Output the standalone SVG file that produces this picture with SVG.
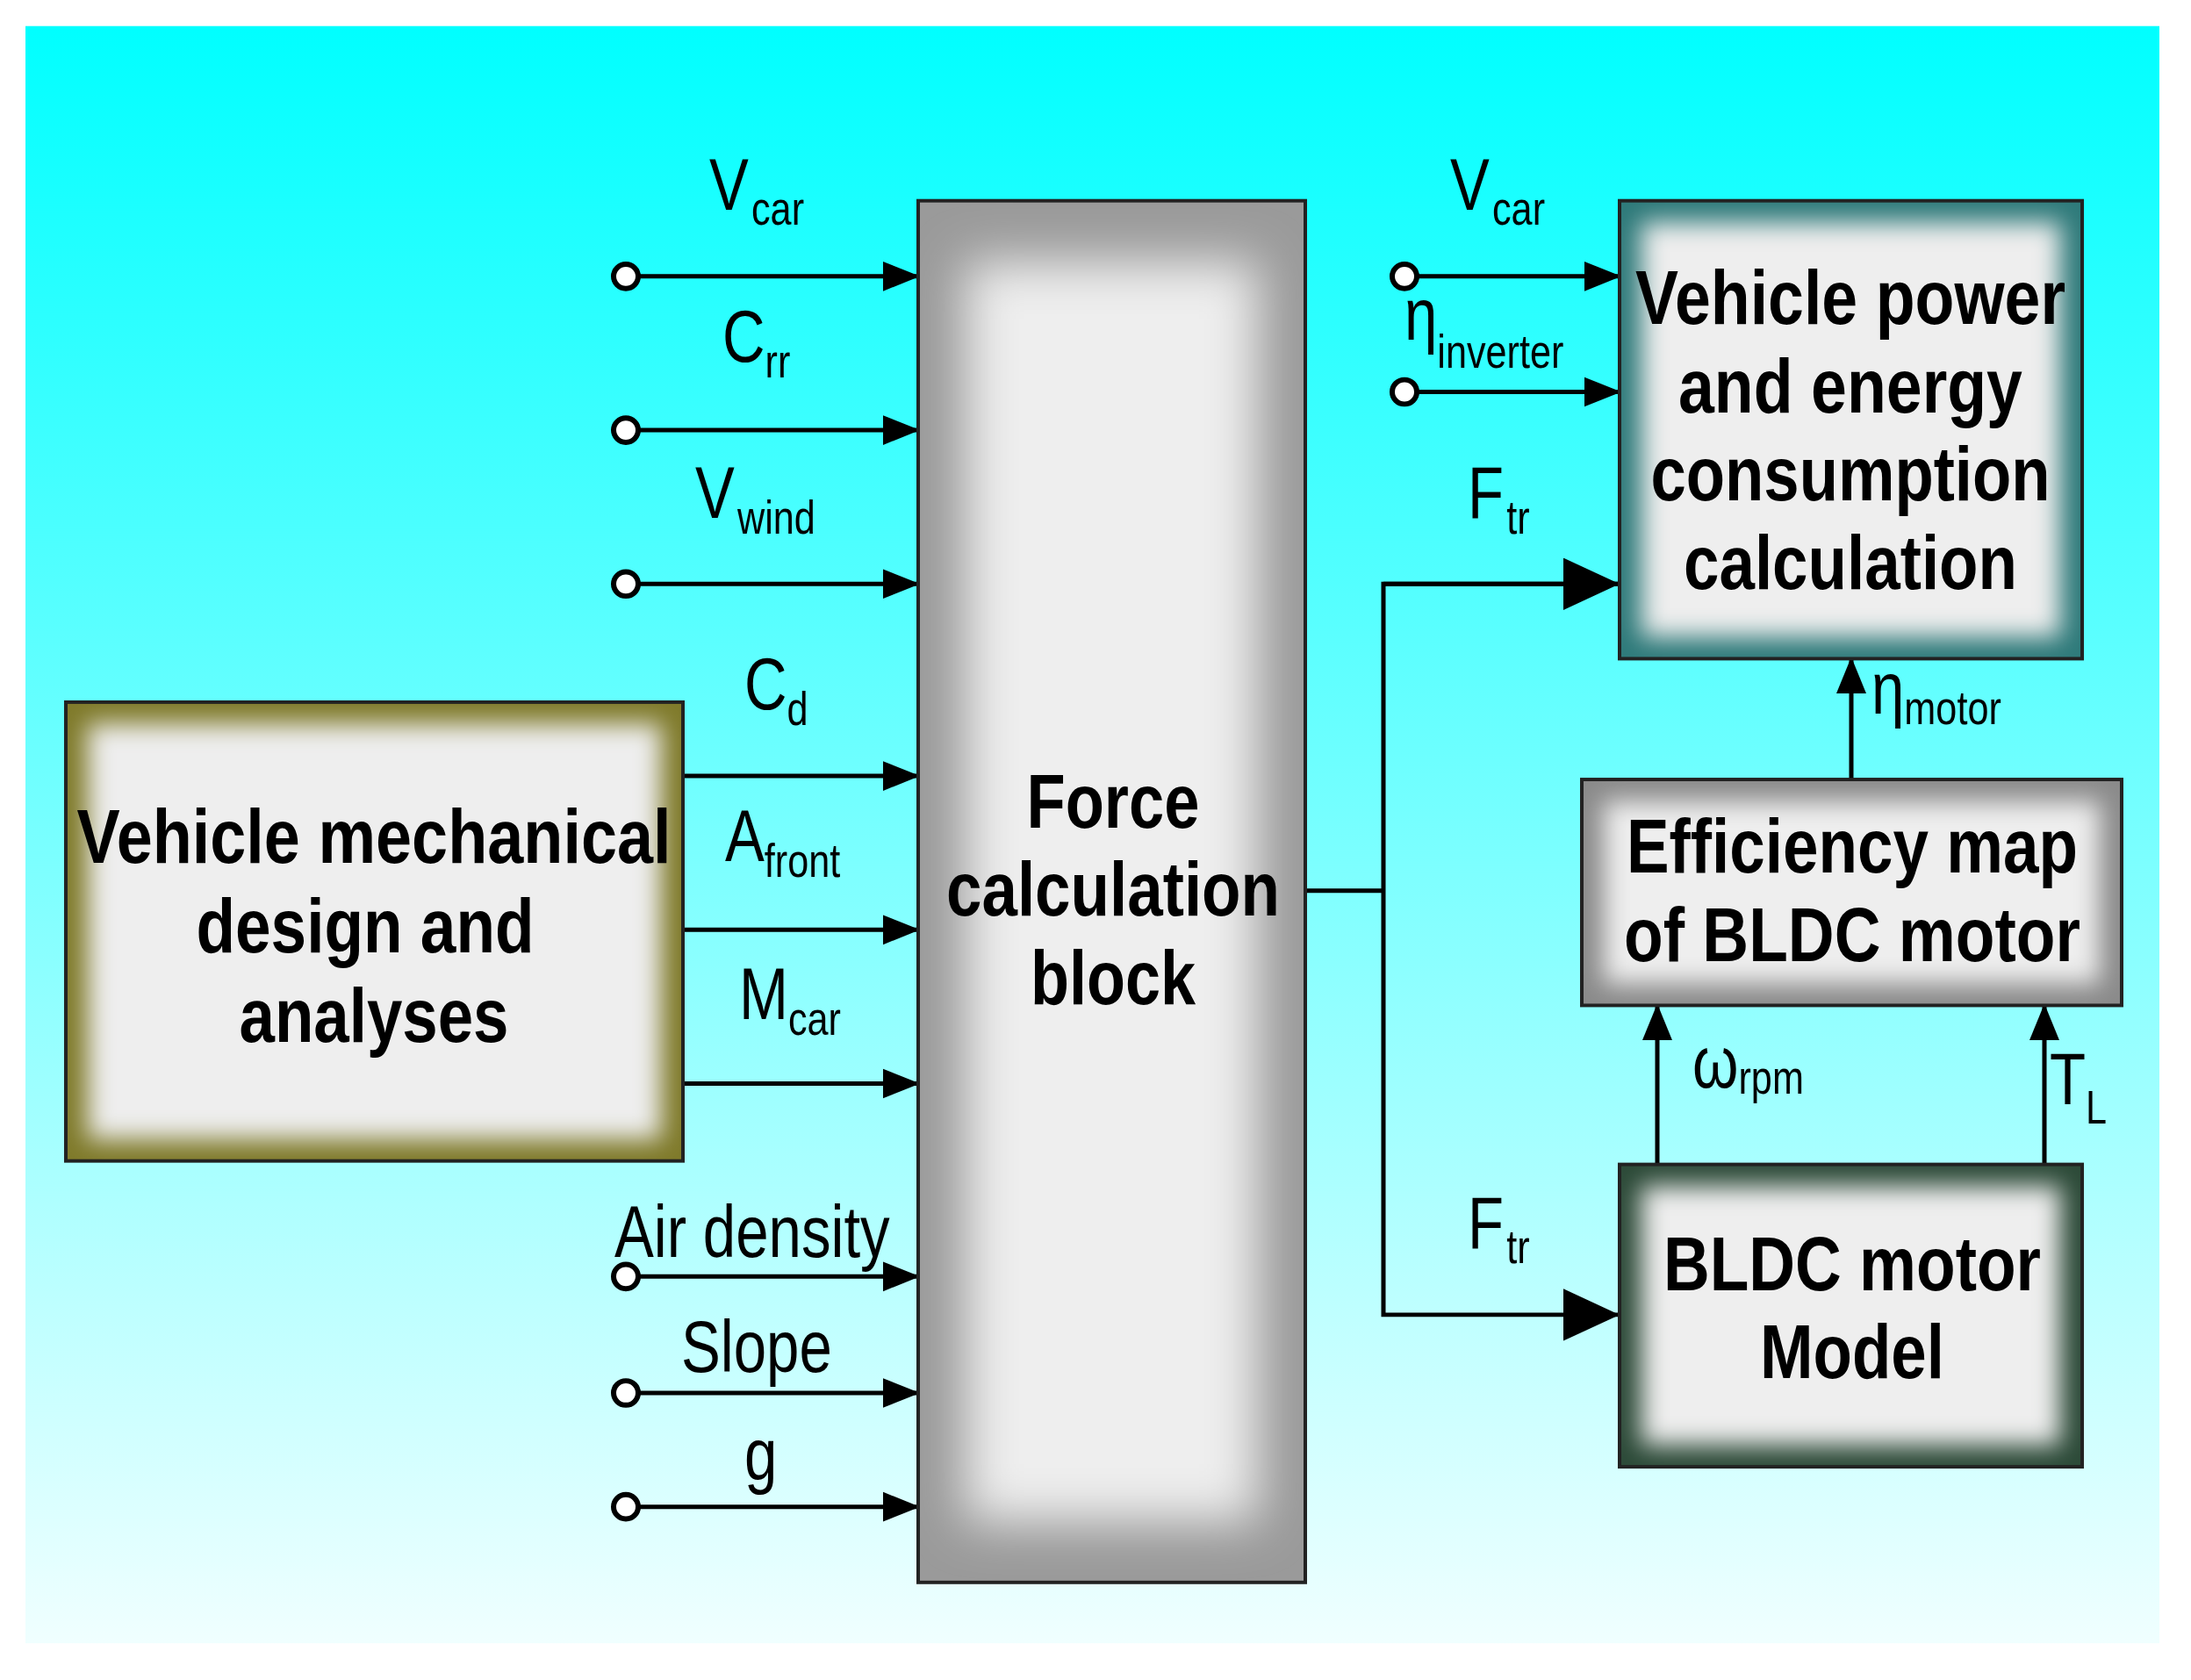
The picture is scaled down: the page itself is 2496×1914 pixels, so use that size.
<svg xmlns="http://www.w3.org/2000/svg" width="2496" height="1914" viewBox="0 0 2496 1914">
<defs>
<linearGradient id="bg" x1="0" y1="0" x2="0" y2="1"><stop offset="0" stop-color="#00FFFF"/><stop offset="1" stop-color="#F0FFFF"/></linearGradient>
<filter id="blur" x="-20%" y="-20%" width="140%" height="140%"><feGaussianBlur stdDeviation="14"/></filter>
<filter id="blur2" x="-20%" y="-20%" width="140%" height="140%"><feGaussianBlur stdDeviation="28"/></filter>
<marker id="ah" markerWidth="44" markerHeight="40" refX="40" refY="20" orient="auto" markerUnits="userSpaceOnUse"><path d="M0,3 L42,20 L0,37 Z" fill="#000"/></marker>
<marker id="big" markerWidth="66" markerHeight="60" refX="64" refY="30" orient="auto" markerUnits="userSpaceOnUse"><path d="M0,0 L64,30 L0,60 Z" fill="#000"/></marker>
<clipPath id="c1"><rect x="75" y="807" width="703" height="528"/></clipPath>
<clipPath id="c2"><rect x="1046" y="230" width="441" height="1590"/></clipPath>
<clipPath id="c3"><rect x="1845" y="230" width="527" height="527"/></clipPath>
<clipPath id="c4"><rect x="1802" y="896" width="615" height="260"/></clipPath>
<clipPath id="c5"><rect x="1845" y="1339" width="527" height="348"/></clipPath>
</defs>
<style>
.t{font-family:"Liberation Sans",Arial,sans-serif;fill:#000}
.b{font-family:"Liberation Sans",Arial,sans-serif;font-weight:bold;font-size:88px;fill:#000;text-anchor:middle}
.l{font-size:84px}
.s{font-size:54px}
.w{stroke:#000;stroke-width:5;fill:none}
.c{fill:#fff;stroke:#000;stroke-width:6}
.o{fill:none;stroke:#222;stroke-width:4}
</style>
<rect x="0" y="0" width="2496" height="1914" fill="#fff"/>
<g transform="translate(0,1) scale(1,0.99)">
<rect x="29" y="29" width="2431" height="1861" fill="url(#bg)"/>

<g id="connectors">
<g class="w" marker-end="url(#ah)">
<line x1="720" y1="317" x2="1046" y2="317"/>
<line x1="720" y1="494" x2="1046" y2="494"/>
<line x1="720" y1="671" x2="1046" y2="671"/>
<line x1="778" y1="892" x2="1046" y2="892"/>
<line x1="778" y1="1069" x2="1046" y2="1069"/>
<line x1="778" y1="1246" x2="1046" y2="1246"/>
<line x1="720" y1="1468" x2="1046" y2="1468"/>
<line x1="720" y1="1602" x2="1046" y2="1602"/>
<line x1="720" y1="1733" x2="1046" y2="1733"/>
<line x1="1607" y1="317" x2="1845" y2="317"/>
<line x1="1607" y1="450" x2="1845" y2="450"/>
<line x1="2109" y1="896" x2="2109" y2="757"/>
<line x1="1888" y1="1339" x2="1888" y2="1156"/>
<line x1="2329" y1="1339" x2="2329" y2="1156"/>
</g>
<polyline class="w" points="1487,1024 1576,1024"/>
<polyline class="w" points="1845,671 1576,671 1576,1512 1845,1512" marker-end="url(#big)"/>
<line class="w" x1="1576" y1="671" x2="1845" y2="671" marker-end="url(#big)"/>
<g>
<circle class="c" cx="713" cy="317" r="14"/><circle class="c" cx="713" cy="494" r="14"/><circle class="c" cx="713" cy="671" r="14"/>
<circle class="c" cx="713" cy="1468" r="14"/><circle class="c" cx="713" cy="1602" r="14"/><circle class="c" cx="713" cy="1733" r="14"/>
<circle class="c" cx="1600" cy="317" r="14"/><circle class="c" cx="1600" cy="450" r="14"/>
</g>
</g>

<g id="labels" class="t">
<text transform="translate(808,240) scale(0.8,1)" class="l">V<tspan class="s" dx="4" dy="18">car</tspan></text>
<text transform="translate(823,415) scale(0.8,1)" class="l">C<tspan class="s" dy="18">rr</tspan></text>
<text transform="translate(792,595) scale(0.8,1)" class="l">V<tspan class="s" dx="4" dy="18">wind</tspan></text>
<text transform="translate(848,815) scale(0.8,1)" class="l">C<tspan class="s" dy="18">d</tspan></text>
<text transform="translate(826,990) scale(0.8,1)" class="l">A<tspan class="s" dy="18">front</tspan></text>
<text transform="translate(842,1172) scale(0.8,1)" class="l">M<tspan class="s" dy="18">car</tspan></text>
<text transform="translate(700,1445) scale(0.8,1)" class="l">Air density</text>
<text transform="translate(776,1578) scale(0.8,1)" class="l">Slope</text>
<text transform="translate(848,1702) scale(0.8,1)" class="l">g</text>
<text transform="translate(1652,240) scale(0.8,1)" class="l">V<tspan class="s" dx="4" dy="18">car</tspan></text>
<text transform="translate(1600,390) scale(0.8,1)" class="l">η<tspan class="s" dy="32">inverter</tspan></text>
<text transform="translate(1672,595) scale(0.8,1)" class="l">F<tspan class="s" dx="4" dy="18">tr</tspan></text>
<text transform="translate(1672,1435) scale(0.8,1)" class="l">F<tspan class="s" dx="4" dy="18">tr</tspan></text>
<text transform="translate(2132,820) scale(0.8,1)" class="l">η<tspan class="s" dy="12">motor</tspan></text>
<text transform="translate(1928,1250) scale(0.8,1)" class="l">ω<tspan class="s" dy="8">rpm</tspan></text>
<text transform="translate(2335,1270) scale(0.8,1)" class="l">T<tspan class="s" dy="22">L</tspan></text>
</g>

<g id="mech">
<rect x="75" y="807" width="703" height="528" fill="#7F7A2A"/>
<rect x="100" y="832" width="653" height="478" fill="#EEEEEE" filter="url(#blur)" clip-path="url(#c1)"/>
<rect class="o" x="75" y="807" width="703" height="528"/>
<text class="b" x="426" y="992" textLength="677" lengthAdjust="spacingAndGlyphs">Vehicle mechanical</text>
<text class="b" x="416" y="1095" textLength="385" lengthAdjust="spacingAndGlyphs">design and</text>
<text class="b" x="426" y="1198" textLength="307" lengthAdjust="spacingAndGlyphs">analyses</text>
</g>

<g id="force">
<rect x="1046" y="230" width="441" height="1590" fill="#9A9A9A"/>
<rect x="1100" y="300" width="333" height="1450" fill="#EEEEEE" filter="url(#blur2)" clip-path="url(#c2)"/>
<rect class="o" x="1046" y="230" width="441" height="1590"/>
<text class="b" x="1268" y="952" textLength="197" lengthAdjust="spacingAndGlyphs">Force</text>
<text class="b" x="1268" y="1053" textLength="380" lengthAdjust="spacingAndGlyphs">calculation</text>
<text class="b" x="1268" y="1155" textLength="188" lengthAdjust="spacingAndGlyphs">block</text>
</g>

<g id="power">
<rect x="1845" y="230" width="527" height="527" fill="#2E7A7A"/>
<rect x="1870" y="255" width="477" height="477" fill="#EEEEEE" filter="url(#blur)" clip-path="url(#c3)"/>
<rect class="o" x="1845" y="230" width="527" height="527"/>
<text class="b" x="2108" y="372" textLength="490" lengthAdjust="spacingAndGlyphs">Vehicle power</text>
<text class="b" x="2108" y="474" textLength="392" lengthAdjust="spacingAndGlyphs">and energy</text>
<text class="b" x="2108" y="575" textLength="455" lengthAdjust="spacingAndGlyphs">consumption</text>
<text class="b" x="2108" y="677" textLength="380" lengthAdjust="spacingAndGlyphs">calculation</text>
</g>

<g id="eff">
<rect x="1802" y="896" width="615" height="260" fill="#8A8A8A"/>
<rect x="1827" y="921" width="565" height="210" fill="#EEEEEE" filter="url(#blur)" clip-path="url(#c4)"/>
<rect class="o" x="1802" y="896" width="615" height="260"/>
<text class="b" x="2110" y="1003" textLength="514" lengthAdjust="spacingAndGlyphs">Efficiency map</text>
<text class="b" x="2110" y="1105" textLength="520" lengthAdjust="spacingAndGlyphs">of BLDC motor</text>
</g>

<g id="bldc">
<rect x="1845" y="1339" width="527" height="348" fill="#2C4A38"/>
<rect x="1870" y="1364" width="477" height="298" fill="#EEEEEE" filter="url(#blur)" clip-path="url(#c5)"/>
<rect class="o" x="1845" y="1339" width="527" height="348"/>
<text class="b" x="2110" y="1484" textLength="430" lengthAdjust="spacingAndGlyphs">BLDC motor</text>
<text class="b" x="2110" y="1585" textLength="210" lengthAdjust="spacingAndGlyphs">Model</text>
</g>
</g>
</svg>
